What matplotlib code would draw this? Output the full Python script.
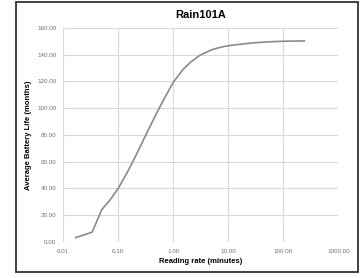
import matplotlib
matplotlib.use("Agg")
import matplotlib.pyplot as plt
from matplotlib.patches import Rectangle
from matplotlib.ticker import FixedLocator, FixedFormatter

plt.rcParams['font.family'] = ['Liberation Sans', 'DejaVu Sans']

# reading rate (minutes) and average battery life (months)
rate = [0.0167, 0.0333, 0.05, 0.07, 0.1, 0.15, 0.2, 0.3, 0.4, 0.5, 0.7, 1,
        1.5, 2, 3, 5, 7, 10, 20, 30, 60, 120, 240]
life = [3, 7, 24, 31, 40, 53, 63, 78, 88.5, 96.5, 108, 119.5,
        129, 134, 139.5, 143.8, 145.5, 146.8, 148.3, 149, 149.8, 150.2, 150.4]

x_ticks = [0.01, 0.1, 1, 10, 100, 1000]
x_labels = ['0.01', '0.10', '1.00', '10.00', '100.00', '1000.00']
y_ticks = [0, 20, 40, 60, 80, 100, 120, 140, 160]
y_labels = ['%.2f' % v for v in y_ticks]

fig = plt.figure(figsize=(3.6, 2.78), dpi=100)
ax = fig.add_axes([0.176, 0.131, 0.764, 0.768])

ax.plot(rate, life, color='#8a8a8a', linewidth=1.2)

ax.set_xscale('log')
ax.set_xlim(0.01, 1000)
ax.set_ylim(0, 160)
ax.xaxis.set_major_locator(FixedLocator(x_ticks))
ax.xaxis.set_major_formatter(FixedFormatter(x_labels))
ax.xaxis.set_minor_locator(FixedLocator([]))
ax.set_yticks(y_ticks)
ax.set_yticklabels(y_labels)
ax.tick_params(length=0, labelsize=4.5, labelcolor='#707070', pad=5)

ax.grid(True, color='#d9d9d9', linewidth=0.8)
ax.set_axisbelow(True)
for s in ax.spines.values():
    s.set_visible(False)

ax.set_title('Rain101A', fontsize=8, fontweight='bold', pad=7)
ax.set_xlabel('Reading rate (minutes)', fontsize=5.5, fontweight='bold', labelpad=3)
ax.set_ylabel('Average Battery Life (months)', fontsize=5.5, fontweight='bold', labelpad=4)

# chart frame
fig.patches.append(Rectangle((16 / 360, 6 / 278), 342 / 360, 270 / 278,
                             transform=fig.transFigure, fill=False,
                             edgecolor='#333333', linewidth=1.3))

fig.savefig('out.png', dpi=100)
